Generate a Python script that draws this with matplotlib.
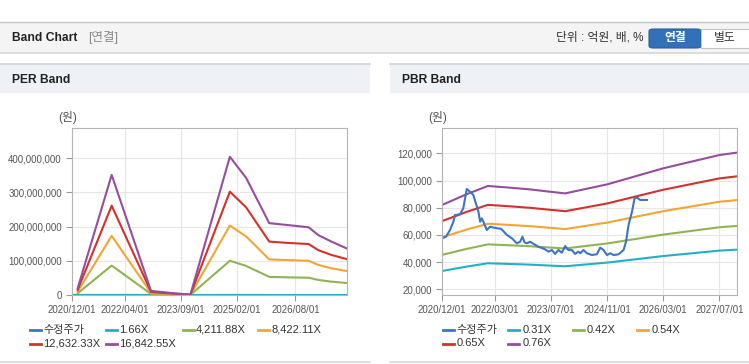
import matplotlib.pyplot as plt
import matplotlib.dates as mdates
from matplotlib.patches import Rectangle, FancyBboxPatch
from matplotlib.lines import Line2D
from matplotlib.ticker import FuncFormatter
import pandas as pd

plt.rcParams['font.family'] = ['Liberation Sans', 'Noto Sans CJK KR']

# ---- PER band data (won) ----
per_dates = pd.to_datetime(['2021-01-20', '2021-12-01', '2022-12-01', '2023-06-01', '2023-12-01',
                            '2024-12-01', '2025-05-01', '2025-12-01', '2026-06-01', '2026-12-01',
                            '2027-03-01', '2027-07-01', '2027-11-20'])
per_names = ['수정주가', '1.66X', '4,211.88X', '8,422.11X', '12,632.33X', '16,842.55X']
per_teal = [0.01e6, 0.03e6, 0.01e6, 0.0, 0.0, 0.04e6, 0.03e6, 0.02e6, 0.02e6, 0.02e6, 0.02e6, 0.02e6, 0.01e6]
per_green = [5e6, 86e6, 3e6, 1.5e6, 0.2e6, 100e6, 85e6, 53e6, 51.5e6, 50.5e6, 44e6, 39e6, 35e6]
per_orange = [10e6, 173e6, 6e6, 3e6, 0.5e6, 203e6, 171e6, 104e6, 102e6, 100e6, 88e6, 78e6, 70e6]
per_red = [15e6, 261e6, 9e6, 4.5e6, 0.7e6, 302e6, 256e6, 156e6, 152e6, 149e6, 131e6, 117e6, 105e6]
per_purple = [20e6, 351e6, 12e6, 6e6, 1e6, 404e6, 342e6, 210e6, 204e6, 198e6, 175e6, 156e6, 136e6]
per_ticks = pd.to_datetime(['2020-12-01', '2022-04-01', '2023-09-01', '2025-02-01', '2026-08-01'])

# ---- PBR band data (won) ----
pbr_dates = pd.to_datetime(['2020-12-01', '2021-07-01', '2022-01-01', '2022-06-01', '2023-01-01',
                            '2023-06-01', '2023-11-01', '2024-11-01', '2026-03-01', '2027-07-01',
                            '2027-12-03'])
pbr_names = ['수정주가', '0.31X', '0.42X', '0.54X', '0.65X', '0.76X']
pbr_teal = [33480, 36700, 39150, 38750, 38130, 37510, 36920, 39650, 44450, 48440, 49170]
pbr_green = [45360, 49730, 53050, 52500, 51660, 50820, 50020, 53720, 60230, 65630, 66610]
pbr_orange = [58320, 63940, 68200, 67500, 66420, 65340, 64310, 69070, 77440, 84380, 85640]
pbr_red = [70200, 76960, 82100, 81250, 79950, 78650, 77420, 83140, 93210, 101560, 103090]
pbr_purple = [82080, 89980, 95990, 95000, 93480, 91960, 90520, 97200, 108980, 118750, 120540]
pbr_ticks = pd.to_datetime(['2020-12-01', '2022-03-01', '2023-07-01', '2024-11-01', '2026-03-01', '2027-07-01'])

# ---- adjusted share price ----
price_dates = pd.to_datetime([
    '2020-12-10', '2021-01-02', '2021-02-06', '2021-03-07', '2021-03-21', '2021-05-04', '2021-06-01',
    '2021-07-01', '2021-08-05', '2021-08-27', '2021-10-10', '2021-10-25', '2021-11-08', '2021-11-22',
    '2021-12-22', '2022-01-19', '2022-03-19', '2022-04-25', '2022-06-14', '2022-07-27', '2022-09-09',
    '2022-10-07', '2022-10-27', '2022-11-14', '2022-12-04', '2023-01-01', '2023-01-30', '2023-03-14',
    '2023-05-11', '2023-06-09', '2023-07-09', '2023-08-06', '2023-09-04', '2023-10-04', '2023-11-01',
    '2023-11-30', '2023-12-29', '2024-01-27', '2024-02-25', '2024-03-11', '2024-04-08', '2024-05-08',
    '2024-06-20', '2024-08-03', '2024-08-31', '2024-09-29', '2024-10-29', '2024-11-26', '2024-12-25',
    '2025-02-06', '2025-03-22', '2025-04-12', '2025-05-04', '2025-06-03', '2025-06-25', '2025-07-16',
    '2025-08-14', '2025-10-11'])
price = [57900, 58700, 63600, 69700, 74600, 75100, 79600,
         93750, 91300, 89300, 77100, 69700, 72200, 69700,
         63600, 66000, 64900, 64500, 60000, 57500, 53800,
         55000, 58700, 54500, 53800, 55000, 53500, 51300,
         49400, 47700, 48900, 46000, 48900, 46900, 51800,
         48900, 48900, 46000, 47700, 46500, 48900, 46500,
         45200, 45800, 50600, 48900, 45200, 46500, 45200,
         45700, 48900, 55000, 67300, 77100, 86900, 87400,
         85700, 85700]

colors = ['#3d74c3', '#22b0c4', '#8fb454', '#f2a535', '#d2322c', '#944f9c']

W, H = 749, 364


def fx(x):
    return x / W


def fy(y):
    return 1 - y / H


fig = plt.figure(figsize=(W / 100, H / 100), dpi=100)

# page header
fig.add_artist(Rectangle((0, fy(52)), 1, fy(22) - fy(52), transform=fig.transFigure,
                         facecolor='#f4f4f4', edgecolor='none'))
fig.add_artist(Line2D([0, 1], [fy(22), fy(22)], color='#c4c4c4', lw=1, transform=fig.transFigure))
fig.add_artist(Line2D([0, 1], [fy(52.5), fy(52.5)], color='#d6d6d6', lw=1.2, transform=fig.transFigure))
fig.text(fx(12), fy(38), 'Band Chart', fontsize=8.7, fontweight='bold', color='#222', va='center')
fig.text(fx(88), fy(38), '[연결]', fontsize=9, color='#8a8a8a', va='center')
fig.text(fx(643), fy(38), '단위 : 억원, 배, %', fontsize=8.5, color='#333', va='center', ha='right')
fig.add_artist(FancyBboxPatch((fx(649), fy(48)), fx(701) - fx(649), fy(29) - fy(48),
                              boxstyle='round,pad=0,rounding_size=0.006', transform=fig.transFigure,
                              facecolor='#3271b8', edgecolor='#2a5f9e', lw=0.8))
fig.text(fx(675), fy(38.5), '연결', fontsize=8.5, fontweight='bold', color='white', va='center', ha='center')
fig.add_artist(Rectangle((fx(701), fy(48)), fx(760) - fx(701), fy(29) - fy(48), transform=fig.transFigure,
                         facecolor='white', edgecolor='#c4c4c4', lw=0.8))
fig.text(fx(725), fy(38.5), '별도', fontsize=8.5, color='#333', va='center', ha='center')

# panel frames
for x0, x1, title in [(0, 370, 'PER Band'), (390, 749, 'PBR Band')]:
    fig.add_artist(Rectangle((fx(x0), fy(93)), fx(x1) - fx(x0), fy(64) - fy(93), transform=fig.transFigure,
                             facecolor='#eef1f6', edgecolor='none'))
    fig.add_artist(Line2D([fx(x0), fx(x1)], [fy(64), fy(64)], color='#d2d2d2', lw=1.2, transform=fig.transFigure))
    fig.add_artist(Line2D([fx(x0), fx(x1)], [fy(361.5), fy(361.5)], color='#d8d8d8', lw=1.2,
                          transform=fig.transFigure))
    fig.text(fx(x0 + 12), fy(80), title, fontsize=8.7, fontweight='bold', color='#222', va='center')


def band_axes(left, right, top, bottom):
    ax = fig.add_axes([fx(left), fy(bottom), (right - left) / W, (bottom - top) / H])
    for s in ax.spines.values():
        s.set_color('#b4b4b4')
    ax.grid(True, color='#e6e6e6', lw=0.8)
    ax.set_axisbelow(True)
    ax.tick_params(labelsize=7, labelcolor='#555', color='#999', length=4, width=0.8)
    ax.yaxis.set_major_formatter(FuncFormatter(lambda v, _: f'{v:,.0f}'))
    ax.xaxis.set_major_formatter(mdates.DateFormatter('%Y/%m/%d'))
    return ax


def legend(names, x_cols, text_off):
    for i, (name, c) in enumerate(zip(names, colors)):
        row, col = divmod(i, 4)
        x = x_cols[col]
        y = [330, 343.5][row]
        fig.add_artist(Line2D([fx(x), fx(x + 11)], [fy(y), fy(y)], color=c, lw=2,
                              transform=fig.transFigure))
        fig.text(fx(x + text_off), fy(y), name, fontsize=8, color='#333', va='center')


# PER chart
ax1 = band_axes(72.3, 347, 128, 295)
ax1.plot(price_dates, price, color=colors[0], lw=1.5)
for vals, c in zip([per_teal, per_green, per_orange, per_red, per_purple], colors[1:]):
    ax1.plot(per_dates, vals, color=c, lw=1.5)
ax1.plot([pd.Timestamp('2020-12-01'), per_dates[0]], [0, per_teal[0]], color=colors[1], lw=1.5)
ax1.set_xlim(pd.Timestamp('2020-12-01'), pd.Timestamp('2027-11-22'))
ax1.set_ylim(0, 488e6)
ax1.set_yticks([0, 100e6, 200e6, 300e6, 400e6])
ax1.set_xticks(per_ticks)
fig.text(fx(67.5), fy(118), '(원)', fontsize=8.5, color='#555', va='center', ha='center')
legend(per_names, [30, 106, 183, 258], 13)

# PBR chart
ax2 = band_axes(442.3, 737.3, 128.3, 295)
for vals, c in zip([pbr_teal, pbr_green, pbr_orange, pbr_red, pbr_purple], colors[1:]):
    ax2.plot(pbr_dates, vals, color=c, lw=1.5)
ax2.plot(price_dates, price, color=colors[0], lw=1.5)
ax2.set_xlim(pd.Timestamp('2020-12-01'), pd.Timestamp('2027-12-03'))
ax2.set_ylim(15800, 138400)
ax2.set_yticks([20000, 40000, 60000, 80000, 100000, 120000])
ax2.set_xticks(pbr_ticks)
fig.text(fx(437.5), fy(118), '(원)', fontsize=8.5, color='#555', va='center', ha='center')
legend(pbr_names, [442.7, 508.3, 572.7, 637.3], 14)

fig.savefig('out.png', dpi=100)
